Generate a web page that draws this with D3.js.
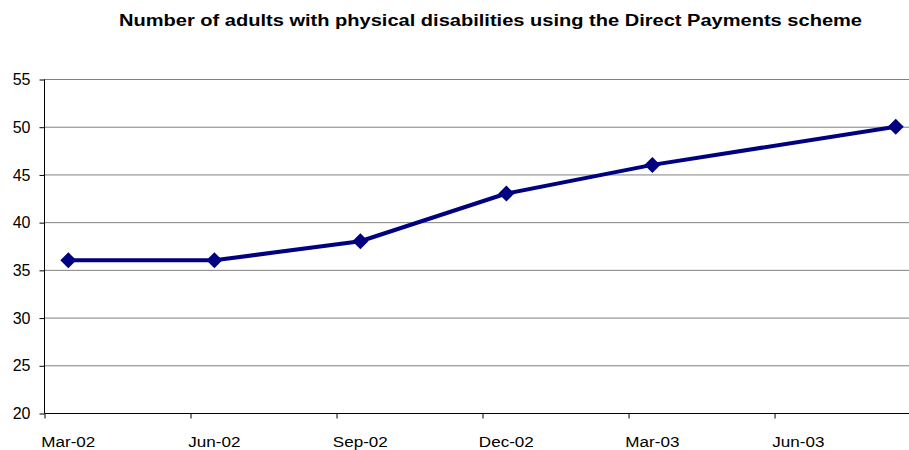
<!DOCTYPE html>
<html>
<head>
<meta charset="utf-8">
<script src="https://cdn.jsdelivr.net/npm/d3@7"></script>
<style>
  html, body { margin: 0; padding: 0; background: #fff; }
  svg { display: block; font-family: "Liberation Sans", Arial, sans-serif; }
</style>
</head>
<body>
<svg id="chart" width="909" height="450"></svg>
<script>
// Reporting months and the number of adults using Direct Payments
const months = ["2002-03", "2002-06", "2002-09", "2002-12", "2003-03", "2003-08"];
const adults = [36, 36, 38, 43, 46, 50];

// Axis labels on the quarterly date axis
const tickMonths = ["2002-03", "2002-06", "2002-09", "2002-12", "2003-03", "2003-06"];
const tickLabels = ["Mar-02", "Jun-02", "Sep-02", "Dec-02", "Mar-03", "Jun-03"];
const yTicks = [20, 25, 30, 35, 40, 45, 50, 55];

const title = "Number of adults with physical disabilities using the Direct Payments scheme";

const parse = d3.timeParse("%Y-%m");
const start = parse("2002-03");
// month offset from the start of the axis
const monthIndex = s => d3.timeMonth.count(start, parse(s));

const svg = d3.select("#chart");
const plotLeft = 44, plotTop = 79, plotBottom = 413;
const pxPerMonth = 48.67;
const axisMonths = 18;

const x = d3.scaleLinear().domain([0, axisMonths]).range([plotLeft, plotLeft + axisMonths * pxPerMonth]);
const y = d3.scaleLinear().domain([20, 55]).range([plotBottom, plotTop]);

// widen a text element horizontally by a factor, keeping its anchor
function widen(sel, factor) {
  sel.each(function () {
    const w = this.getComputedTextLength();
    d3.select(this).attr("textLength", w * factor).attr("lengthAdjust", "spacingAndGlyphs");
  });
}

// title
svg.append("text")
  .attr("x", 490.5).attr("y", 26)
  .attr("text-anchor", "middle")
  .attr("font-size", 16).attr("font-weight", "bold")
  .attr("fill", "#000")
  .attr("textLength", 743).attr("lengthAdjust", "spacingAndGlyphs")
  .text(title);

// horizontal gridlines
svg.append("g")
  .selectAll("line")
  .data(yTicks.filter(v => v > 20))
  .join("line")
  .attr("x1", plotLeft).attr("x2", 909)
  .attr("y1", d => y(d) + 0.5).attr("y2", d => y(d) + 0.5)
  .attr("stroke", "#808080").attr("stroke-width", 1);

// y axis
const yAxis = d3.axisLeft(y).tickValues(yTicks).tickSize(5).tickPadding(9);
const gy = svg.append("g").attr("transform", `translate(${plotLeft + 0.5},0.5)`).call(yAxis);
gy.select(".domain").attr("stroke", "#000").attr("d", `M0,${plotTop}V${plotBottom}`);
gy.selectAll(".tick line").attr("stroke", "#000");
gy.selectAll(".tick text").attr("font-size", 16).attr("fill", "#000")
  .attr("font-family", "Liberation Sans, Arial, sans-serif");

// x axis: ticks on quarter boundaries, labels centred in the first month of each quarter
const xAxis = d3.axisBottom(x)
  .tickValues(tickMonths.map(monthIndex))
  .tickSize(5).tickFormat("");
const gx = svg.append("g").attr("transform", `translate(0.5,${plotBottom + 0.5})`).call(xAxis);
gx.select(".domain").attr("stroke", "#000").attr("d", `M${plotLeft},0H909`);
gx.selectAll(".tick line").attr("stroke", "#000");

svg.append("g")
  .selectAll("text")
  .data(tickMonths)
  .join("text")
  .attr("x", (d) => x(monthIndex(d) + 0.5))
  .attr("y", 447)
  .attr("text-anchor", "middle")
  .attr("font-size", 15.5)
  .attr("fill", "#000")
  .text((d, i) => tickLabels[i])
  .call(widen, 1.1);

// series line
const pts = months.map((m, i) => [x(monthIndex(m) + 0.5), y(adults[i])]);
svg.append("path")
  .attr("d", d3.line()(pts))
  .attr("fill", "none")
  .attr("stroke", "#000080")
  .attr("stroke-width", 4)
  .attr("stroke-linejoin", "round");

// diamond markers
svg.append("g")
  .selectAll("path")
  .data(pts)
  .join("path")
  .attr("transform", d => `translate(${d[0]},${d[1]})`)
  .attr("d", "M0,-8L8,0L0,8L-8,0Z")
  .attr("fill", "#000080");
</script>
</body>
</html>
